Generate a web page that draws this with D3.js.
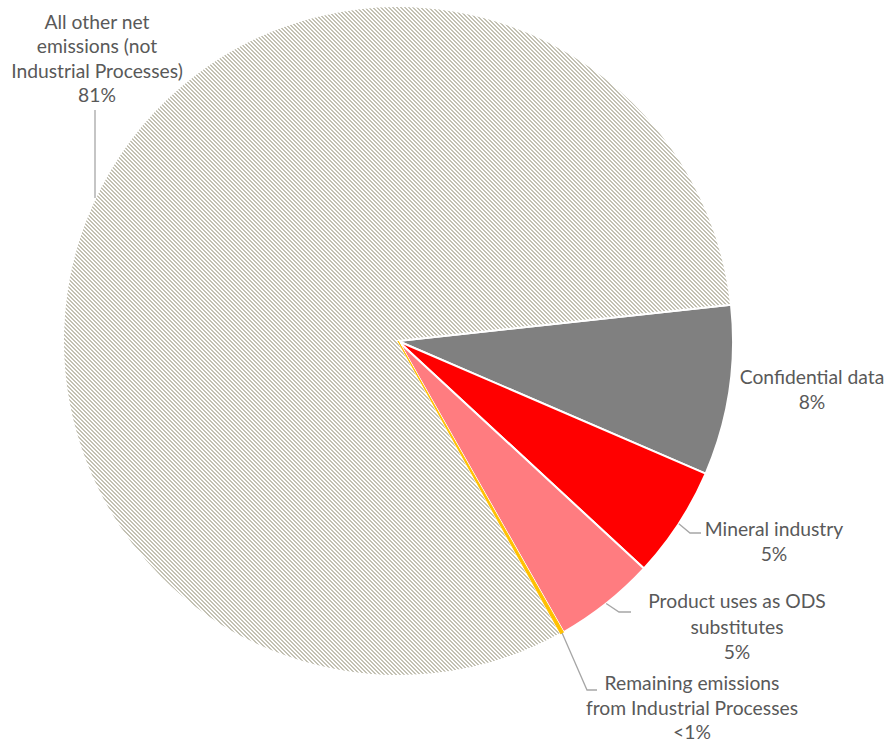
<!DOCTYPE html>
<html>
<head>
<meta charset="utf-8">
<script src="https://cdn.jsdelivr.net/npm/d3@7"></script>
<style>
  html, body { margin: 0; padding: 0; background: #ffffff; }
  svg { display: block; }
  text { font-family: "Lato", "Noto Sans", sans-serif; }
</style>
</head>
<body>
<svg id="chart" width="886" height="747"></svg>
<script>
// ---- data ----
const categories = [
  "Confidential data",
  "Mineral industry",
  "Product uses as ODS substitutes",
  "Remaining emissions from Industrial Processes",
  "All other net emissions (not Industrial Processes)"
];
const values = [8.2, 5.4, 4.9, 0.15, 81.35];
const percentLabels = ["8%", "5%", "5%", "<1%", "81%"];
const labelLines = [
  ["Confidential data"],
  ["Mineral industry"],
  ["Product uses as ODS", "substitutes"],
  ["Remaining emissions", "from Industrial Processes"],
  ["All other net", "emissions (not", "Industrial Processes)"]
];
const colors = ["#808080", "#ff0000", "#ff7c80", "#ffc000", "url(#hatch)"];

// ---- layout ----
const W = 886, H = 747;
const cx = 398, cy = 341, R = 335;
const startDeg = 83.8;
const labelLayout = [
  { x: 812, y: 384, lh: 25, leader: null },
  { x: 774, y: 536, lh: 25, leader: [[690, 533], [701, 533]] },
  { x: 737, y: 608, lh: 25.5, leader: [[619, 612], [631, 612]] },
  { x: 692, y: 690, lh: 24.5, leader: [[587, 690], [597, 690]] },
  { x: 97,  y: 29,  lh: 24.4, leader: [[95, 110]], leaderX: 95 }
];

const svg = d3.select("#chart");
const defs = svg.append("defs");
const pat = defs.append("pattern")
  .attr("id", "hatch")
  .attr("patternUnits", "userSpaceOnUse")
  .attr("width", 4).attr("height", 4);
pat.append("rect").attr("width", 4).attr("height", 4).attr("fill", "#ffffff");
[[0,0],[1,0],[1,1],[2,1],[2,2],[3,2],[3,3],[0,3]].forEach(([px, py]) => {
  pat.append("rect").attr("x", px).attr("y", py).attr("width", 1).attr("height", 1)
    .attr("fill", "#c3c1b3").attr("shape-rendering", "crispEdges");
});

const pie = d3.pie().sort(null).value(d => d)
  .startAngle(startDeg * Math.PI / 180)
  .endAngle(startDeg * Math.PI / 180 + 2 * Math.PI);
const arcs = pie(values);
const arc = d3.arc().innerRadius(0).outerRadius(R);

const g = svg.append("g").attr("transform", `translate(${cx},${cy})`);
g.selectAll("path.slice")
  .data(arcs)
  .join("path")
  .attr("class", "slice")
  .attr("d", arc)
  .attr("fill", (d, i) => colors[i])
  .attr("stroke", "#ffffff")
  .attr("stroke-width", 2)
  .attr("stroke-linejoin", "round");
// thin slice drawn on top so it stays visible
g.append("path")
  .attr("d", arc(arcs[3]))
  .attr("fill", colors[3])
  .attr("stroke", colors[3])
  .attr("stroke-width", 1);

// ---- leader lines ----
const edgePoint = (d, i) => {
  const lay = labelLayout[i];
  if (lay.leaderX !== undefined) {
    const dx = lay.leaderX - cx;
    return [lay.leaderX, cy - Math.sqrt(R * R - dx * dx)];
  }
  const a = (d.startAngle + d.endAngle) / 2;
  return [cx + R * Math.sin(a), cy - R * Math.cos(a)];
};
const line = d3.line();
arcs.forEach((d, i) => {
  const lay = labelLayout[i];
  if (!lay.leader) return;
  const pts = [edgePoint(d, i)].concat(lay.leader);
  svg.append("path")
    .attr("d", line(pts))
    .attr("fill", "none")
    .attr("stroke", "#a6a6a6")
    .attr("stroke-width", 1.3);
});

// ---- labels ----
arcs.forEach((d, i) => {
  const lay = labelLayout[i];
  const lines = labelLines[i].concat([percentLabels[i]]);
  const t = svg.append("text")
    .attr("text-anchor", "middle")
    .attr("fill", "#595959")
    .attr("font-size", 19.3);
  lines.forEach((s, k) => {
    t.append("tspan").attr("x", lay.x).attr("y", lay.y + k * lay.lh).text(s);
  });
});
</script>
</body>
</html>
